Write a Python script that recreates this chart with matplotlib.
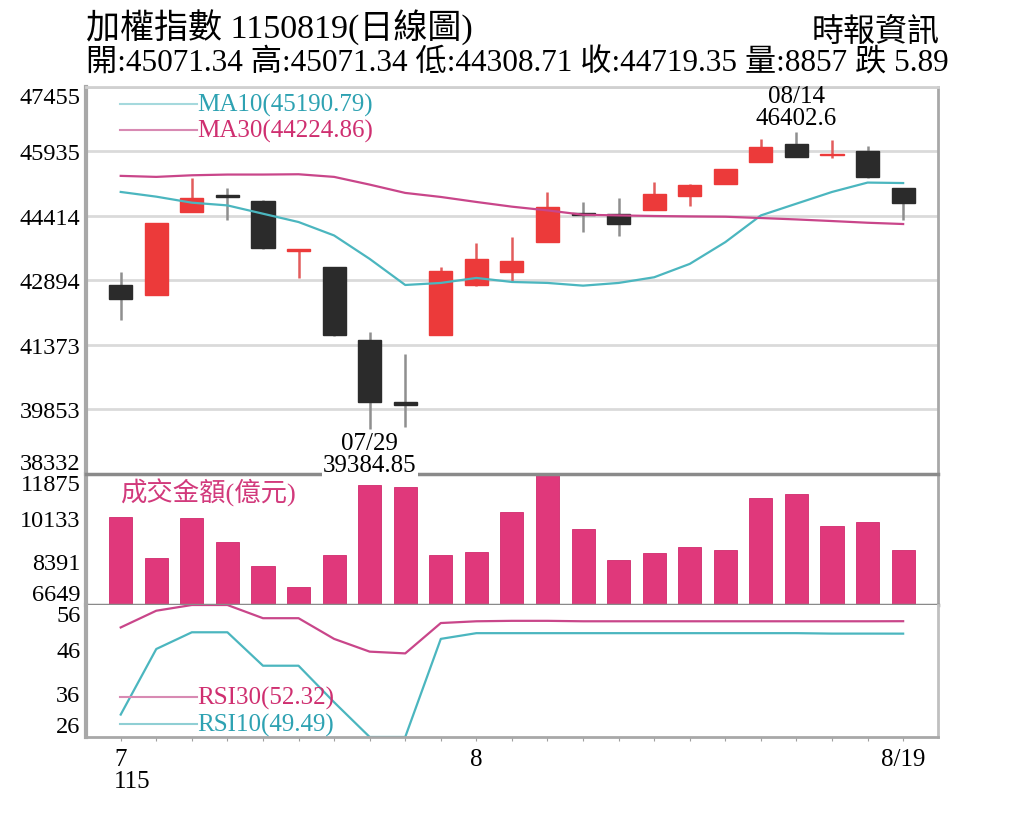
import matplotlib.pyplot as plt
import numpy as np

plt.rcParams['font.family'] = ['Liberation Serif', 'Noto Sans CJK TC']

# daily data, 115/07/20 .. 115/08/19
dates = ['07/20', '07/21', '07/22', '07/23', '07/24', '07/27', '07/28', '07/29',
         '07/30', '07/31', '08/03', '08/04', '08/05', '08/06', '08/07', '08/10',
         '08/11', '08/12', '08/13', '08/14', '08/17', '08/18', '08/19']
opens = [42790, 42560, 44510, 44900, 44770, 43600, 43210, 41490, 40030, 41600,
         42790, 43100, 43800, 44480, 44470, 44550, 44890, 45180, 45690, 46110,
         45850, 45940, 45071.34]
highs = [43100, 44250, 45300, 45080, 44780, 43630, 43210, 41680, 41160, 43210,
         43780, 43920, 44980, 44750, 44850, 45220, 45180, 45530, 46240, 46402.6,
         46200, 46060, 45071.34]
lows = [41960, 42560, 44500, 44330, 43630, 42950, 41590, 39384.85, 39430, 41600,
        42770, 42890, 43800, 44030, 43950, 44550, 44650, 45180, 45690, 45810,
        45770, 45300, 44308.71]
closes = [42460, 44250, 44850, 44860, 43660, 43630, 41600, 40040, 39970, 43110,
          43400, 43360, 44630, 44440, 44230, 44930, 45140, 45530, 46030, 45810,
          45880, 45340, 44719.35]
ma10 = [44981, 44870, 44728, 44664, 44468, 44272, 43955, 43403, 42788, 42836,
        42954, 42859, 42836, 42772, 42836, 42970, 43285, 43798, 44428, 44705,
        44981, 45202, 45190.79]
ma30 = [45360, 45336, 45374, 45391, 45391, 45398, 45336, 45154, 44958, 44863,
        44745, 44634, 44546, 44444, 44428, 44414, 44404, 44397, 44366, 44333,
        44295, 44255, 44224.86]
volume = [10160, 8540, 10120, 9170, 8200, 7370, 8650, 11420, 11340, 8650,
          8770, 10360, 11880, 9690, 8440, 8740, 8950, 8850, 10930, 11080,
          9800, 9980, 8857]
rsi30 = [50.9, 54.7, 56.0, 56.0, 53.0, 53.0, 48.3, 45.4, 45.0, 51.9,
         52.3, 52.4, 52.4, 52.3, 52.3, 52.3, 52.3, 52.3, 52.3, 52.3,
         52.3, 52.3, 52.32]
rsi10 = [31.1, 46.0, 49.8, 49.8, 42.2, 42.2, 33.9, 26.0, 26.0, 48.3,
         49.6, 49.6, 49.6, 49.6, 49.6, 49.6, 49.6, 49.6, 49.6, 49.6,
         49.5, 49.5, 49.49]
change = -5.89

price_ticks = [38332, 39853, 41373, 42894, 44414, 45935, 47455]
vol_ticks = [6649, 8391, 10133, 11875]
rsi_ticks = [26, 36, 46, 56]

RED = '#ec3a3a'
BLACK = '#2b2b2b'
TEAL = '#4bb6bf'
MAGENTA = '#c9468a'
VOLC = '#e0387b'

W, H = 1024, 820
fig = plt.figure(figsize=(W / 100, H / 100), dpi=100)


def box(l, t, r, b):
    return [l / W, 1 - b / H, (r - l) / W, (b - t) / H]


ax1 = fig.add_axes(box(86, 88, 938, 475))
ax2 = fig.add_axes(box(86, 475, 938, 606), sharex=ax1)
ax3 = fig.add_axes(box(86, 606, 938, 738), sharex=ax1)
ax1.set_zorder(3)

x = np.arange(len(dates))
o, h, l, c = map(np.array, (opens, highs, lows, closes))
up = c >= o
body_col = np.where(up, RED, BLACK)
wick_col = np.where(up, '#e25c5c', '#8f8f8f')

# candles
ax1.vlines(x, l, h, colors=wick_col, lw=1.8, zorder=2)
ax1.bar(x, np.abs(c - o), bottom=np.minimum(o, c), width=0.65,
        color=body_col, edgecolor=body_col, lw=1, zorder=3)
ax1.plot(x, ma10, color=TEAL, lw=1.6, zorder=4)
ax1.plot(x, ma30, color=MAGENTA, lw=1.6, zorder=4)
ax1.set_ylim(price_ticks[0], price_ticks[-1])
ax1.set_xlim(-0.976, 22.98)
ax1.set_yticks(price_ticks)
ax1.grid(axis='y', color='#dadada', lw=2)
ax1.set_axisbelow(True)

# legends
ax1.plot([0.04, 0.13], [0.956, 0.956], transform=ax1.transAxes, color='#a5d9dd', lw=1.5)
ax1.text(0.13, 0.956, f'MA10({ma10[-1]:.2f})', transform=ax1.transAxes,
         color='#2ea2b2', fontsize=18, va='center')
ax1.plot([0.04, 0.13], [0.889, 0.889], transform=ax1.transAxes, color='#d88ab3', lw=1.5)
ax1.text(0.13, 0.889, f'MA30({ma30[-1]:.2f})', transform=ax1.transAxes,
         color='#cf2f70', fontsize=18, va='center')

# high / low annotations
hi = int(np.argmax(h))
lo = int(np.argmin(l))
ax1.annotate(f'{dates[hi]}\n{h[hi]}', (hi, h[hi]), xytext=(0, 2), textcoords='offset points',
             ha='center', va='bottom', fontsize=18, linespacing=1.0, zorder=6)
ax1.annotate(f'{dates[lo]}\n{l[lo]}', (lo, l[lo]), xytext=(0, -2), textcoords='offset points',
             ha='center', va='top', fontsize=18, linespacing=1.0, zorder=6,
             annotation_clip=False,
             bbox=dict(boxstyle='square,pad=0.05', fc='white', ec='none'))

# volume
ax2.bar(x, volume, width=0.65, color=VOLC, edgecolor='#d02a6c', lw=0.6)
ax2.set_ylim(vol_ticks[0], vol_ticks[-1])
ax2.set_yticks(vol_ticks)
ax2.text(0.04, 0.86, '成交金額(億元)', transform=ax2.transAxes, color='#d23a7c',
         fontsize=19, va='center')

# RSI
ax3.plot(x, rsi30, color=MAGENTA, lw=1.6)
ax3.plot(x, rsi10, color=TEAL, lw=1.6)
ax3.set_ylim(rsi_ticks[0], rsi_ticks[-1])
ax3.set_yticks(rsi_ticks)
ax3.plot([0.04, 0.13], [0.303, 0.303], transform=ax3.transAxes, color='#d88ab3', lw=1.5)
ax3.text(0.13, 0.303, f'RSI30({rsi30[-1]:.2f})', transform=ax3.transAxes,
         color='#cf2f70', fontsize=18, va='center')
ax3.plot([0.04, 0.13], [0.098, 0.098], transform=ax3.transAxes, color='#8fcfd4', lw=1.5)
ax3.text(0.13, 0.098, f'RSI10({rsi10[-1]:.2f})', transform=ax3.transAxes,
         color='#2ea2b2', fontsize=18, va='center')

# x axis: month at first day of each month, last date at the end
xlabels = []
for i, d in enumerate(dates):
    m = d.split('/')[0]
    if i == len(dates) - 1:
        xlabels.append(f'{int(m)}/{d.split("/")[1]}')
    elif i == 0 or m != dates[i - 1].split('/')[0]:
        xlabels.append(str(int(m)))
    else:
        xlabels.append('')
ax3.set_xticks(x)
ax3.set_xticklabels(xlabels)
ax3.tick_params(axis='x', length=3, color='#a0a0a0', labelsize=18, pad=5)
ax3.text(-0.2, -0.33, '115', transform=ax3.get_xaxis_transform(), fontsize=18,
         ha='left', va='center')

for ax in (ax1, ax2, ax3):
    ax.tick_params(axis='y', length=0, pad=4, labelsize=17.5)
    labels = ax.get_yticklabels()
    labels[0].set_verticalalignment('bottom')
    labels[-1].set_verticalalignment('top')
    for s in ax.spines.values():
        s.set_color('#a8a8a8')
        s.set_linewidth(2)
    ax.spines['left'].set_linewidth(3)
for ax in (ax1, ax2):
    ax.tick_params(axis='x', length=0, labelbottom=False)
ax1.spines['top'].set_color('#d0d0d0')
ax1.spines['bottom'].set_color('#8a8a8a')
ax1.spines['bottom'].set_linewidth(2.5)
ax2.spines['top'].set_visible(False)
ax2.spines['bottom'].set_color('#8a8a8a')
ax2.spines['bottom'].set_linewidth(2.5)
ax3.spines['top'].set_visible(False)
ax3.spines['right'].set_color('#c0c0c0')

# header
fig.text(86 / W, 1 - 28 / H, '加權指數 1150819(日線圖)', fontsize=24.5, va='center')
fig.text(940 / W, 1 - 33 / H, '時報資訊', fontsize=23, va='center', ha='right')
sign = '跌' if change < 0 else '漲'
fig.text(86 / W, 1 - 64 / H,
         f'開:{opens[-1]:.2f} 高:{highs[-1]:.2f} 低:{lows[-1]:.2f} 收:{closes[-1]:.2f} '
         f'量:{volume[-1]} {sign} {abs(change):.2f}', fontsize=22.5, va='center')

fig.savefig('out.png', dpi=100)
